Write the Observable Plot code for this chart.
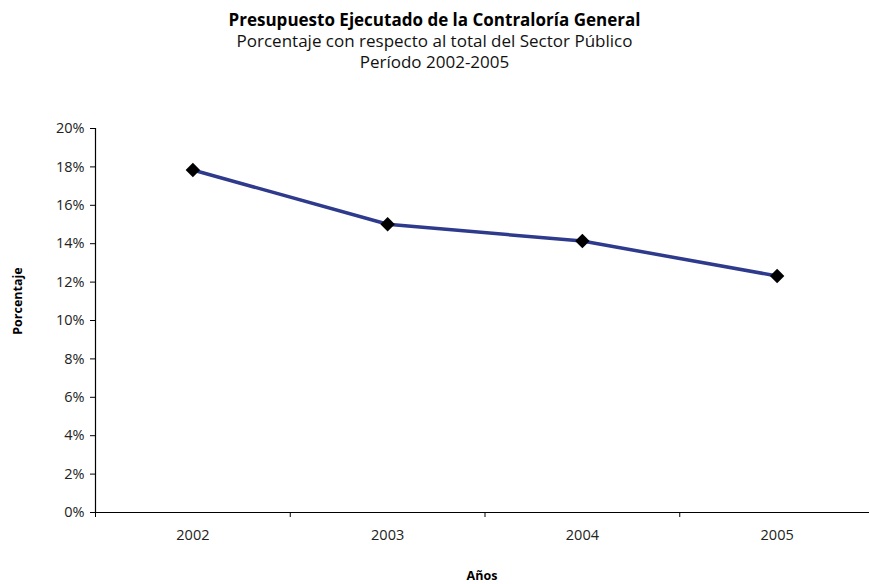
<!DOCTYPE html>
<html>
<head>
<meta charset="utf-8">
<script src="https://cdn.jsdelivr.net/npm/d3@7"></script>
<script src="https://cdn.jsdelivr.net/npm/@observablehq/plot@0.6"></script>
<style>
  html, body { margin: 0; padding: 0; background: #fff; }
  #wrap { position: relative; width: 869px; height: 584px; overflow: hidden; font-family: "Open Sans", sans-serif; color: #000; }
  .hdr { position: absolute; left: 0; width: 869px; text-align: center; white-space: nowrap; }
  #t1 { top: 8px; font-size: 17px; font-weight: bold; line-height: 24px; }
  #t2 { top: 29px; font-size: 17px; line-height: 24px; color: #111; }
  #t3 { top: 50px; font-size: 17px; line-height: 24px; color: #111; }
  #chart { position: absolute; left: 0; top: 95px; }
  #ylab { position: absolute; left: 17px; top: 301px; transform: translate(-50%, -50%) rotate(-90deg); font-size: 12.5px; font-weight: bold; white-space: nowrap; }
  #xlab { position: absolute; left: 482px; top: 575px; transform: translate(-50%, -50%); font-size: 12.5px; font-weight: bold; white-space: nowrap; }
</style>
</head>
<body>
<div id="wrap">
  <div class="hdr" id="t1"></div>
  <div class="hdr" id="t2"></div>
  <div class="hdr" id="t3"></div>
  <div id="chart"></div>
  <div id="ylab"></div>
  <div id="xlab"></div>
</div>
<script>
const title = "Presupuesto Ejecutado de la Contraloría General";
const subtitle = "Porcentaje con respecto al total del Sector Público";
const period = "Período 2002-2005";
const yLabel = "Porcentaje";
const xLabel = "Años";

const years = [2002, 2003, 2004, 2005];
const shares = [0.1784, 0.1501, 0.1414, 0.1232];
const yTicks = [0, 0.02, 0.04, 0.06, 0.08, 0.10, 0.12, 0.14, 0.16, 0.18, 0.20];
const xBounds = [2001.5, 2002.5, 2003.5, 2004.5, 2005.5];

document.getElementById("t1").textContent = title;
document.getElementById("t2").textContent = subtitle;
document.getElementById("t3").textContent = period;
document.getElementById("ylab").textContent = yLabel;
document.getElementById("xlab").textContent = xLabel;

const data = years.map((y, i) => ({year: y, value: shares[i]}));

const chart = Plot.plot({
  width: 869,
  height: 489,
  marginTop: 33,
  marginBottom: 72,
  marginLeft: 95,
  marginRight: 0,
  style: {fontFamily: "Open Sans, sans-serif", fontSize: "14.5px", color: "#222", background: "#fff"},
  x: {type: "linear", domain: [2001.5, 2005.5], range: [95, 874]},
  y: {domain: [0, 0.2]},
  marks: [
    Plot.axisY({ticks: yTicks, tickFormat: d3.format(".0%"), tickSize: 5, tickPadding: 6, label: null, stroke: "#000", color: "#222"}),
    Plot.axisX({ticks: xBounds, tickFormat: () => "", tickSize: 5, label: null, stroke: "#000"}),
    Plot.axisX({ticks: years, tickFormat: d => String(d), tickSize: 0, tickPadding: 17, label: null, color: "#222"}),
    Plot.ruleX([2001.5], {stroke: "#000", strokeWidth: 1.2}),
    Plot.ruleY([0], {stroke: "#000", strokeWidth: 1.2}),
    Plot.line(data, {x: "year", y: "value", stroke: "#2e3a8c", strokeWidth: 3.5}),
    Plot.dot(data, {x: "year", y: "value", symbol: "diamond2", r: 6.5, fill: "#000", stroke: "none"})
  ]
});
document.getElementById("chart").appendChild(chart);
</script>
</body>
</html>
